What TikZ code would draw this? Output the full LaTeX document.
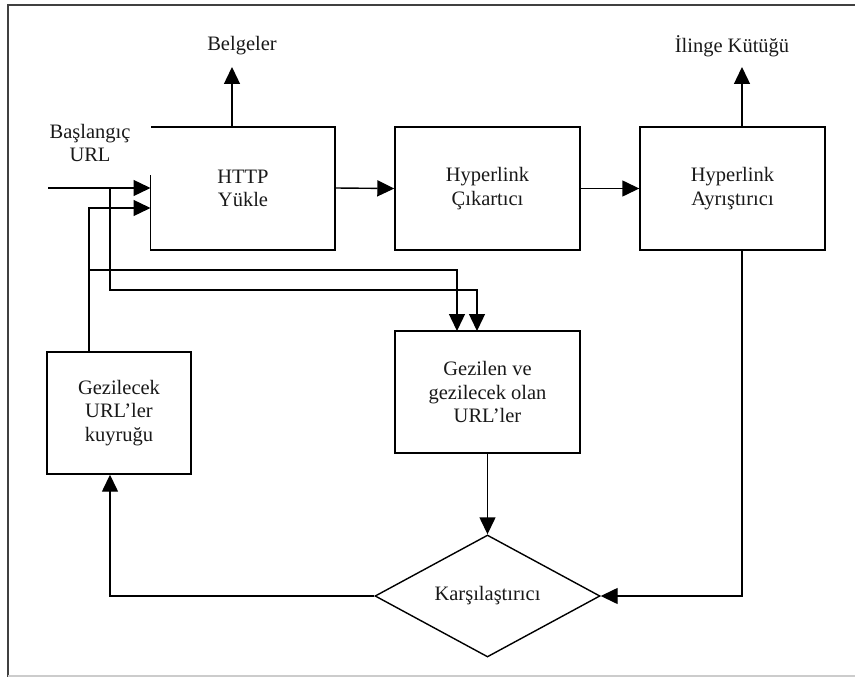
\documentclass[tikz,border=0pt]{standalone}
\usepackage{fontspec}
\setmainfont{Liberation Serif}
\usetikzlibrary{arrows.meta,shapes.geometric}
\begin{document}
\begin{tikzpicture}[x=1pt,y=-1pt,
  line width=1.4pt,
  lbl/.style={font=\fontsize{20.5}{23.5}\selectfont, align=center, inner sep=0pt, text=black!90},
  blk/.style={draw, minimum width=185pt, minimum height=123pt, lbl},
  arr/.style={-{Triangle[length=17pt,width=16pt]}},
  frame/.style={line width=1.6pt, draw=black!75}]
\useasboundingbox (0,0) rectangle (855,677);

% outer frame (left and top dark, bottom faint)
\draw[frame] (8,677) -- (8,5) -- (855,5);
\draw[line width=1.2pt, draw=black!20] (8,676) -- (855,676);

% HTTP Yükle block: outline drawn by hand, its upper-left edge is open
\node[lbl] (http) at (243,188.5) {HTTP\\Yükle};
\coordinate (httpW) at (150.5,188);
\coordinate (httpW2) at (150.5,208);
\coordinate (httpE) at (335,188);
\draw (150.5,175) -- (150.5,250) -- (335,250) -- (335,127) -- (150.5,127);

\node[blk] (cik) at (487.5,188.5) {Hyperlink\\Çıkartıcı};
\node[blk] (ayr) at (732.5,188.5) {Hyperlink\\Ayrıştırıcı};

\node[draw, lbl, minimum width=185pt, minimum height=122pt] (gez) at (487.5,392) {Gezilen ve\\gezilecek olan\\URL’ler};
\node[draw, lbl, minimum width=144pt, minimum height=122pt] (kuy) at (119,413) {Gezilecek\\URL’ler\\kuyruğu};

\node[draw, diamond, lbl, aspect=1.84, minimum width=225pt, minimum height=122pt] (kar) at (487.5,596) {Karşılaştırıcı};

% outputs
\node[lbl] (belg) at (242,46) {Belgeler};
\node[lbl] (ilin) at (732,46) {İlinge Kütüğü};
\coordinate (belgT) at (232,67);
\coordinate (belgB) at (232,127);
\coordinate (ilinT) at (742,67);
\coordinate (ilinB) at (742,127);
\draw[arr] (belgB) -- (belgT);
\draw[arr] (ilinB) -- (ilinT);

% start URL input
\node[lbl] (start) at (90,143) {Başlangıç\\URL};
\coordinate (in) at (48,188);
\draw[arr] (in) -- (httpW);

% main chain
\draw[arr] (httpE) -- (cik.west);
\draw[arr] (cik.east) -- (ayr.west);

% queue back into the loader, and both URL paths into the store
\draw[arr] (kuy.north -| 89,0) -- (89,208) -- (httpW2);
\draw[arr] (89,270) -- (457,270) -- (457,331);
\draw[arr] (110,188) -- (110,290) -- (477,290) -- (477,331);

% comparison loop
\draw[arr] (gez.south) -- (kar.north);
\draw[arr] (ayr.south -| 742,0) -- (742,596) -- (kar.east);
\draw[arr] (kar.west) -- (110,596) -- (kuy.south -| 110,0);
\end{tikzpicture}
\end{document}
